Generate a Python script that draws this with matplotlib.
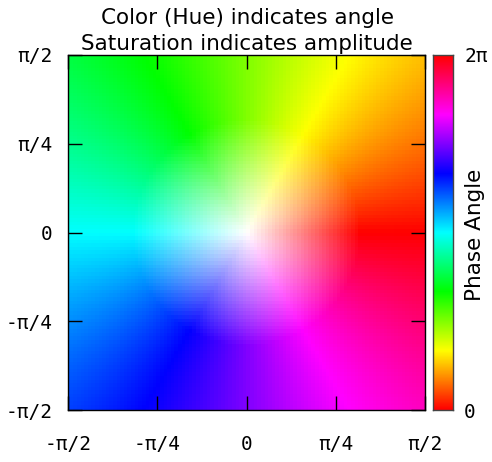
import numpy as np
import matplotlib
matplotlib.use('Agg')
import matplotlib.pyplot as plt
from matplotlib.colors import hsv_to_rgb

# plotted function is f(z) = z on a 100x100 sample grid
n_samples = 100
x_range = [-np.pi / 2, np.pi / 2]
y_range = [-np.pi / 2, np.pi / 2]

tick_values = [-np.pi / 2, -np.pi / 4, 0, np.pi / 4, np.pi / 2]
tick_labels = ['-π/2', '-π/4', '0', 'π/4', 'π/2']
cb_ticks = [0, 2 * np.pi]
cb_labels = ['0', '2π']

title = 'Color (Hue) indicates angle\nSaturation indicates amplitude'

# grid of samples
xs = np.linspace(x_range[0], x_range[1], n_samples)
ys = np.linspace(y_range[0], y_range[1], n_samples)
X, Y = np.meshgrid(xs, ys)
Z = X + 1j * Y

phase = np.mod(np.angle(Z), 2 * np.pi)
amp = np.abs(Z)

hsv = np.dstack([phase / (2 * np.pi), np.clip(amp, 0, 1), np.ones_like(amp)])
rgb = hsv_to_rgb(hsv)

W, H = 492, 462
fig = plt.figure(figsize=(W / 100, H / 100), dpi=100)
ax = fig.add_axes([68 / W, 1 - 410 / H, 357 / W, 355 / H])
cax = fig.add_axes([433 / W, 1 - 410 / H, 20 / W, 355 / H])

dx = (xs[1] - xs[0]) / 2
dy = (ys[1] - ys[0]) / 2
ax.imshow(rgb, origin='lower', interpolation='nearest', aspect='auto',
          extent=[xs[0] - dx, xs[-1] + dx, ys[0] - dy, ys[-1] + dy])
ax.set_xlim(x_range)
ax.set_ylim(y_range)

mono = 'DejaVu Sans Mono'
tfs = 14
ax.set_xticks(tick_values)
ax.set_xticklabels(tick_labels, fontfamily=mono, fontsize=tfs)
ax.set_yticks(tick_values)
ax.set_yticklabels(tick_labels, fontfamily=mono, fontsize=tfs)
ax.tick_params(axis='both', direction='in', length=10, width=1.0,
               top=True, right=True, color='black')
ax.tick_params(axis='x', pad=18)
ax.tick_params(axis='y', pad=11)
for s in ax.spines.values():
    s.set_linewidth(1.0)

# colorbar drawn as a hue strip
hue = np.linspace(0, 1, 256)
strip = hsv_to_rgb(np.dstack([hue, np.ones_like(hue), np.ones_like(hue)]).reshape(256, 1, 3))
cax.imshow(strip, origin='lower', aspect='auto', extent=[0, 1, 0, 2 * np.pi])
cax.set_xticks([])
cax.yaxis.tick_right()
cax.set_yticks(cb_ticks)
cax.set_yticklabels(cb_labels, fontfamily=mono, fontsize=tfs)
cax.tick_params(axis='y', length=0, pad=8)
cax.set_ylim(0, 2 * np.pi)
for s in cax.spines.values():
    s.set_linewidth(1.0)
    s.set_color('#444444')
fig.text(475 / W, 1 - 235 / H, 'Phase Angle', rotation=90, fontsize=15.5,
         ha='center', va='center')

lines = title.split('\n')
fig.text(247 / W, 1 - 18 / H, lines[0], fontsize=15.5, ha='center', va='center')
fig.text(247 / W, 1 - 44 / H, lines[1], fontsize=15.5, ha='center', va='center')

fig.savefig('out.png', dpi=100)
